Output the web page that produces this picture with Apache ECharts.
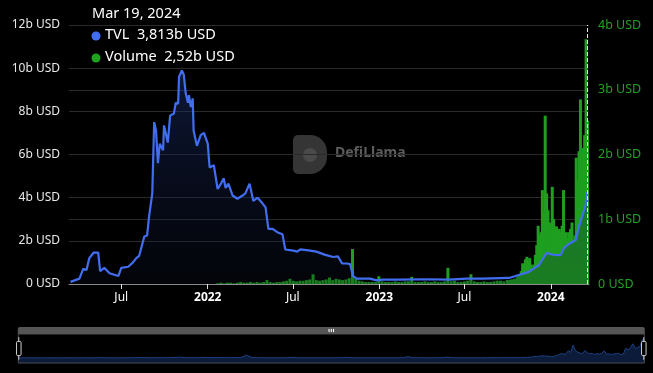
<!DOCTYPE html>
<html>
<head>
<meta charset="utf-8">
<script src="https://cdn.jsdelivr.net/npm/echarts@6/dist/echarts.min.js"></script>
<style>
html,body{margin:0;padding:0;background:#000;}
#c{width:653px;height:373px;}
</style>
</head>
<body>
<div id="c"></div>
<script>
// TVL (billions USD)
const tvlDates = ['2021-03-15','2021-04-03','2021-04-11','2021-04-18','2021-04-24','2021-05-03','2021-05-13','2021-05-17','2021-05-26','2021-06-06','2021-06-25','2021-07-01','2021-07-16','2021-07-26','2021-08-02','2021-08-08','2021-08-19','2021-08-25','2021-08-29','2021-09-05','2021-09-09','2021-09-13','2021-09-17','2021-09-21','2021-09-28','2021-09-30','2021-10-08','2021-10-13','2021-10-21','2021-10-25','2021-10-30','2021-11-01','2021-11-07','2021-11-11','2021-11-15','2021-11-20','2021-11-22','2021-11-26','2021-11-30','2021-12-02','2021-12-09','2021-12-17','2021-12-24','2022-01-01','2022-01-05','2022-01-14','2022-01-22','2022-01-29','2022-02-04','2022-02-08','2022-02-14','2022-02-23','2022-03-05','2022-03-16','2022-03-22','2022-03-31','2022-04-08','2022-04-17','2022-04-27','2022-05-04','2022-05-10','2022-05-19','2022-05-29','2022-06-09','2022-06-15','2022-07-02','2022-07-10','2022-07-17','2022-07-21','2022-08-07','2022-08-20','2022-09-08','2022-09-25','2022-10-05','2022-10-14','2022-10-24','2022-10-31','2022-11-06','2022-11-14','2022-12-12','2022-12-27','2023-01-08','2023-02-13','2023-04-10','2023-05-30','2023-07-05','2023-08-08','2023-10-04','2023-10-25','2023-11-15','2023-12-07','2023-12-23','2024-01-01','2024-01-12','2024-01-22','2024-01-29','2024-02-12','2024-02-23','2024-02-29','2024-03-07','2024-03-15','2024-03-17','2024-03-19'];
const tvlValues = [0.1,0.25,0.7,0.65,1.2,1.45,1.45,0.6,0.75,0.5,0.37,0.75,0.8,1.0,1.2,1.3,2.2,2.25,3.1,4.2,7.5,7.1,5.6,6.5,6.2,7.35,6.55,7.8,7.9,8.4,8.35,9.6,9.9,9.7,8.85,8.4,8.75,8.2,8.6,7.1,6.4,6.9,7.0,6.5,5.4,5.5,4.4,4.65,4.9,4.45,4.65,4.1,3.95,4.1,4.2,4.65,3.85,4.0,3.75,3.55,2.55,2.55,2.4,2.3,1.6,1.55,1.5,1.6,1.65,1.55,1.5,1.35,1.25,1.28,0.95,0.95,0.92,0.37,0.25,0.25,0.17,0.2,0.2,0.22,0.2,0.25,0.25,0.28,0.42,0.56,0.88,1.44,1.38,1.34,1.35,1.67,1.9,2.04,2.6,3.1,3.65,4.26,3.813];

// Volume (billions USD): weekly from volEarlyStart, then every 3 days from volLateStart
const volEarlyStart = '2022-01-22';
const volEarlyStepDays = 7;
const volEarly = [0.01,0.02,0.01,0.02,0.02,0.01,0.02,0.03,0.02,0.02,0.03,0.02,0.03,0.02,
  0.03,0.06,0.03,0.02,0.03,0.03,0.04,0.05,0.08,0.05,0.04,0.05,0.05,0.06,0.07,
  0.15,0.06,0.05,0.06,0.07,0.1,0.06,0.08,0.07,0.06,0.07,0.09,0.54,0.08,
  0.05,0.04,0.03,0.03,0.03,0.03,0.12,0.04,0.03,0.03,0.03,0.04,0.03,0.03,0.04,0.04,
  0.11,0.03,0.03,0.03,0.04,0.03,0.03,0.04,0.03,0.03,0.04,0.25,0.04,0.05,0.03,0.03,0.04,0.05,
  0.15,0.04,0.03,0.03,0.04,0.03,0.03,0.04,0.05,0.05,0.04,0.06];
const volLateStart = '2023-10-03';
const volLateStepDays = 3;
const volLate = [0.06,0.05,0.07,0.06,0.08,0.07,0.1,0.12,
  0.15,0.2,0.32,0.25,0.38,0.42,0.35,0.4,0.3,0.25,0.3,0.45,0.6,
  0.9,0.75,0.8,1.45,1.1,2.6,1.4,1.14,0.95,0.89,1.5,1.0,0.85,0.89,0.7,0.85,0.8,0.9,1.45,0.75,
  0.8,0.7,0.8,0.85,0.95,0.65,0.75,1.95,1.6,2.05,2.85,1.9,2.1,2.3,3.78,2.52];

const leftTicks = {min:0, max:12, interval:2};
const rightTicks = {min:0, max:4, interval:1};
const axisStart = '2021-03-15';
const axisEnd = '2024-03-19';
const tooltipDate = 'Mar 19, 2024';

const DAY = 86400000;
function stepped(start, step, vals){
  const t0 = new Date(start + 'T00:00:00Z').getTime();
  return vals.map((v,i)=>[t0 + i*step*DAY, v]);
}
const volData = stepped(volEarlyStart, volEarlyStepDays, volEarly).concat(stepped(volLateStart, volLateStepDays, volLate));
const tvlData = tvlDates.map((d,i)=>[new Date(d+'T00:00:00Z').getTime(), tvlValues[i]]);
const fmtComma = (v,d)=>v.toFixed(d).replace('.',',');
const lastTvl = tvlValues[tvlValues.length-1];
const lastVol = volLate[volLate.length-1];
const endTime = new Date(axisEnd+'T00:00:00Z').getTime();

const FONT = 'Noto Sans';
const MONTHS = ['Jan','Feb','Mar','Apr','May','Jun','Jul','Aug','Sep','Oct','Nov','Dec'];
const chart = echarts.init(document.getElementById('c'), null, {renderer:'canvas'});
chart.setOption({
  backgroundColor:'#000',
  animation:false,
  textStyle:{fontFamily:FONT},
  grid:{left:69, right:64, top:25, bottom:89},
  xAxis:{
    type:'time',
    min:new Date(axisStart+'T00:00:00Z').getTime(),
    max:endTime,
    splitNumber:6,
    axisLine:{lineStyle:{color:'#8c8c8c'}},
    axisTick:{show:true, length:5, lineStyle:{color:'#e0e0e0'}},
    splitLine:{show:false},
    axisLabel:{
      color:'#fff', fontSize:12, margin:8, fontFamily:FONT,
      formatter:function(v){
        const d = new Date(v);
        if (d.getUTCMonth()===0) return '{y|'+d.getUTCFullYear()+'}';
        return MONTHS[d.getUTCMonth()];
      },
      rich:{y:{fontWeight:'bold', color:'#fff', fontSize:12, fontFamily:FONT}}
    }
  },
  yAxis:[{
    type:'value', position:'left', min:leftTicks.min, max:leftTicks.max, interval:leftTicks.interval,
    axisLine:{show:false}, axisTick:{show:false},
    splitLine:{lineStyle:{color:'#2a2a2a'}},
    axisLabel:{color:'#e8e8e8', fontSize:12, margin:9, formatter:v=> v===0?'0 USD': v+'b USD'}
  },{
    type:'value', position:'right', min:rightTicks.min, max:rightTicks.max, interval:rightTicks.interval,
    axisLine:{show:false}, axisTick:{show:false},
    splitLine:{lineStyle:{color:'#2a2a2a'}},
    axisLabel:{color:'#22a022', fontSize:12.5, margin:9, formatter:v=> v===0?'0 USD': v+'b USD'}
  }],
  dataZoom:[{
    type:'slider', xAxisIndex:0, left:15, right:11, bottom:16, height:30,
    start:0, end:100,
    backgroundColor:'rgba(0,0,0,0)',
    borderColor:'#4a4a4a',
    fillerColor:'rgba(0,0,0,0)',
    moveHandleSize:7,
    moveHandleStyle:{color:'#555', opacity:1},
    handleStyle:{color:'#000', borderColor:'#cfcfcf', borderWidth:1},
    handleSize:'75%',
    showDetail:false,
    dataBackground:{lineStyle:{color:'#1d4080', width:1, opacity:1}, areaStyle:{color:'#0c1b3a', opacity:1}},
    selectedDataBackground:{lineStyle:{color:'#1d4080', width:1, opacity:1}, areaStyle:{color:'#0c1b3a', opacity:1}},
    emphasis:{handleStyle:{borderColor:'#fff'}, moveHandleStyle:{color:'#666'}}
  }],
  series:[{
    name:'Volume', type:'bar', yAxisIndex:1, data:volData, barWidth:3,
    itemStyle:{color:'#1f9f1f'}, large:false, silent:true
  },{
    name:'TVL', type:'line', yAxisIndex:0, data:tvlData, showSymbol:false, symbol:'none',
    lineStyle:{color:'#416ef0', width:2.2},
    areaStyle:{color:new echarts.graphic.LinearGradient(0,0,0,1,[
      {offset:0, color:'rgba(32,56,130,0.6)'},
      {offset:1, color:'rgba(12,18,40,0.35)'}
    ])},
    z:3, silent:true,
    markLine:{
      silent:true, symbol:['none','none'], label:{show:false},
      lineStyle:{color:'#e6e6e6', type:'dashed', width:1},
      data:[{xAxis:endTime}]
    }
  }],
  graphic:[
    {type:'text', left:92, top:6, style:{text:tooltipDate, fill:'#fff', font:'14.5px "'+FONT+'"'}},
    {type:'circle', shape:{cx:96, cy:36, r:4.5}, style:{fill:'#416ef0'}},
    {type:'text', left:105, top:27, style:{text:'TVL  '+fmtComma(lastTvl,3)+'b USD', fill:'#fff', font:'14.5px "'+FONT+'"'}},
    {type:'circle', shape:{cx:96, cy:58, r:4.5}, style:{fill:'#1fa01f'}},
    {type:'text', left:105, top:49, style:{text:'Volume  '+fmtComma(lastVol,2)+'b USD', fill:'#fff', font:'14.5px "'+FONT+'"'}},
    {type:'rect', shape:{x:293, y:135, width:34, height:39, r:[5,17,17,5]}, style:{fill:'#353535'}, z:0},
    {type:'circle', shape:{cx:310, cy:155, r:7}, style:{fill:'#4a4a4a'}, z:0},
    {type:'text', left:335, top:146, style:{text:'DefiLlama', fill:'#5c5c5c', font:'bold 14px "'+FONT+'"'}, z:0}
  ]
});
</script>
</body>
</html>
